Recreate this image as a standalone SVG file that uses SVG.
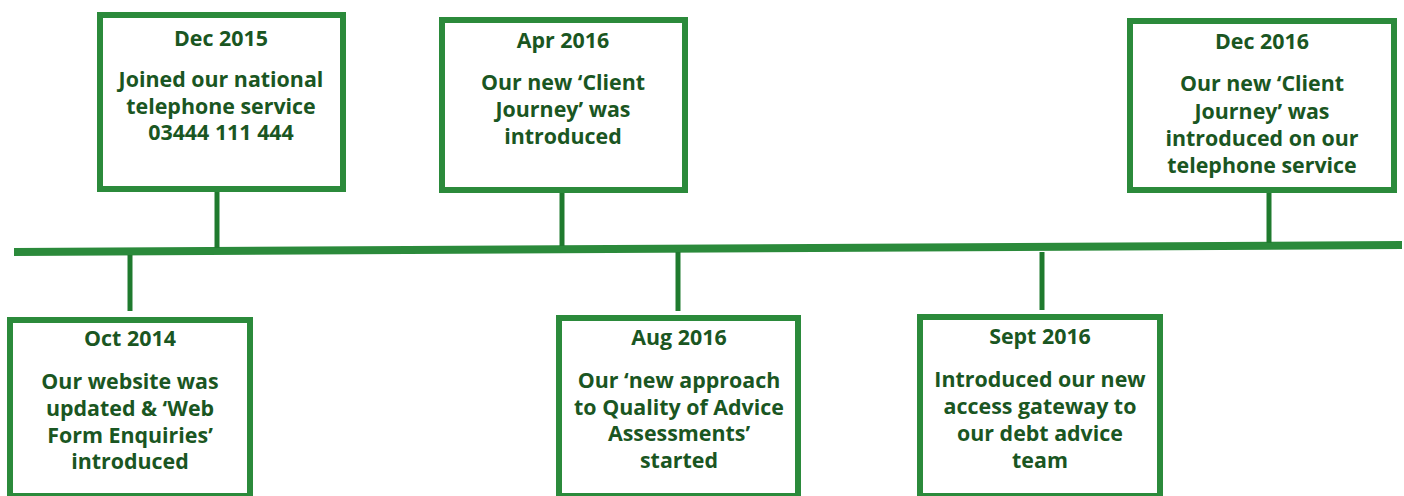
<svg xmlns="http://www.w3.org/2000/svg" width="1404" height="496" viewBox="0 0 1404 496">
<style>
.box{fill:#ffffff;stroke:#2b8a3b;stroke-width:6}
.ln{stroke:#1f7a2e;stroke-width:5;fill:none}
.tl{stroke:#2b8a3b;stroke-width:8;fill:none}
text{font-family:"Open Sans","Noto Sans","Liberation Sans",sans-serif;font-weight:bold;fill:#1a5622;text-anchor:middle;font-size:21.4px}
</style>
<rect width="1404" height="496" fill="#ffffff"/>
<g id="connectors">
<line class="tl" x1="14" y1="252" x2="1402" y2="245"/>
<line class="ln" x1="217" y1="192" x2="217" y2="248"/>
<line class="ln" x1="562" y1="192" x2="562" y2="246"/>
<line class="ln" x1="1269" y1="193" x2="1269" y2="243"/>
<line class="ln" x1="130" y1="255" x2="130" y2="311"/>
<line class="ln" x1="678" y1="252" x2="678" y2="311"/>
<line class="ln" x1="1042" y1="252" x2="1042" y2="310"/>
</g>
<g id="dec2015">
<rect class="box" x="100" y="15" width="243" height="174"/>
<text x="221" y="46">Dec 2015</text>
<text x="221" y="87">Joined our national</text>
<text x="221" y="114">telephone service</text>
<text x="221" y="140">03444 111 444</text>
</g>
<g id="apr2016">
<rect class="box" x="442" y="20" width="243" height="170"/>
<text x="563" y="48">Apr 2016</text>
<text x="563" y="90">Our new ‘Client</text>
<text x="563" y="117">Journey’ was</text>
<text x="563" y="144">introduced</text>
</g>
<g id="dec2016">
<rect class="box" x="1130" y="21" width="264" height="169"/>
<text x="1262" y="49">Dec 2016</text>
<text x="1262" y="91">Our new ‘Client</text>
<text x="1262" y="119">Journey’ was</text>
<text x="1262" y="146">introduced on our</text>
<text x="1262" y="173">telephone service</text>
</g>
<g id="oct2014">
<rect class="box" x="10" y="320" width="240" height="176"/>
<text x="130" y="346">Oct 2014</text>
<text x="130" y="389">Our website was</text>
<text x="130" y="416">updated &amp; ‘Web</text>
<text x="130" y="443">Form Enquiries’</text>
<text x="130" y="469">introduced</text>
</g>
<g id="aug2016">
<rect class="box" x="559" y="318" width="239" height="178"/>
<text x="679" y="345">Aug 2016</text>
<text x="679" y="388">Our ‘new approach</text>
<text x="679" y="415">to Quality of Advice</text>
<text x="679" y="441">Assessments’</text>
<text x="679" y="468">started</text>
</g>
<g id="sept2016">
<rect class="box" x="920" y="317" width="240" height="179"/>
<text x="1040" y="344">Sept 2016</text>
<text x="1040" y="387">Introduced our new</text>
<text x="1040" y="414">access gateway to</text>
<text x="1040" y="441">our debt advice</text>
<text x="1040" y="468">team</text>
</g>
</svg>
